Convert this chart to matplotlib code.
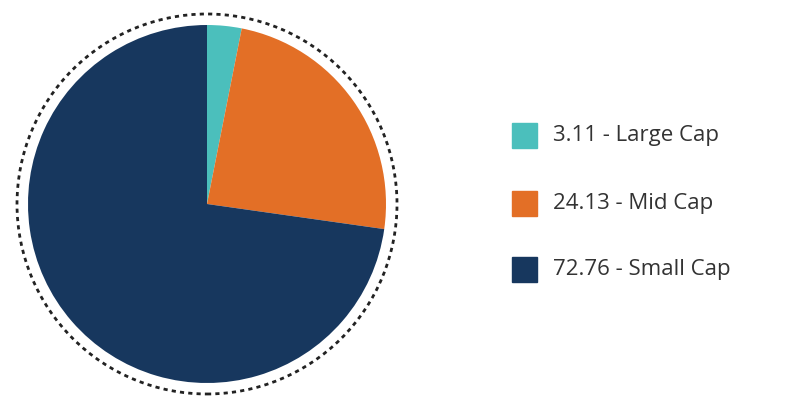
import matplotlib.pyplot as plt
from matplotlib.patches import Circle, Rectangle

labels = ["Large Cap", "Mid Cap", "Small Cap"]
values = [3.11, 24.13, 72.76]
colors = ["#4bbfbc", "#e36f26", "#17375e"]

W, H = 798, 416
fig = plt.figure(figsize=(W / 100, H / 100), dpi=100)

# pie axes: centre (207, 204) px, radius 179 px
cx, cy, r = 207, H - 204, 179
half = 196
ax = fig.add_axes([(cx - half) / W, (cy - half) / H, 2 * half / W, 2 * half / H])
lim = half / r
ax.pie(values, colors=colors, startangle=90, counterclock=False, radius=1,
       wedgeprops=dict(linewidth=0))
ax.add_patch(Circle((0, 0), 190 / r, fill=False, edgecolor="#222222",
                    linestyle=(0, (1.5, 1.5)), linewidth=2))
ax.set_xlim(-lim, lim)
ax.set_ylim(-lim, lim)
ax.set_aspect("equal")
ax.axis("off")

# legend
rows_y = [135, 203, 269]
for lab, val, col, y in zip(labels, values, colors, rows_y):
    fig.patches.append(Rectangle((512 / W, (H - y - 12.5) / H), 25 / W, 25 / H,
                                 transform=fig.transFigure, color=col))
    fig.text(553 / W, (H - y) / H, f"{val:.2f} - {lab}", fontsize=16,
             color="#333333", va="center", ha="left", family="Open Sans")

fig.savefig("out.png", dpi=100)
